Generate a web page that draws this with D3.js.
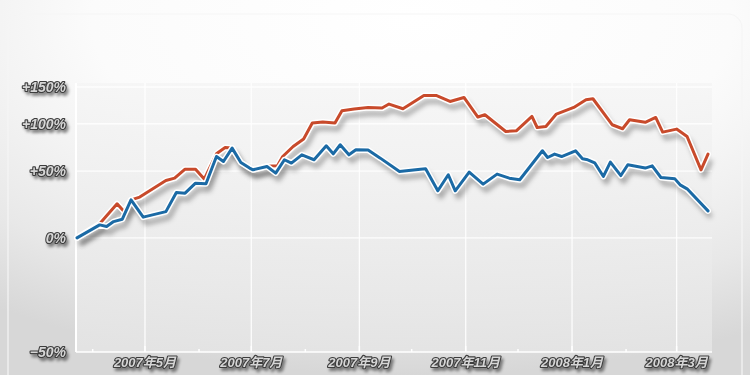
<!DOCTYPE html>
<html><head><meta charset="utf-8">
<script src="https://cdn.jsdelivr.net/npm/d3@7"></script>
<style>html,body{margin:0;padding:0;background:#fff;}svg{display:block;}</style>
</head><body>
<svg id="chart" width="750" height="375"></svg>
<script>
// ---- data (cumulative return, %) ----
const redDates = ["2007-03-23","2007-04-05","2007-04-15","2007-04-19","2007-04-23","2007-04-28","2007-05-13","2007-05-18","2007-05-24","2007-05-30","2007-06-04","2007-06-11","2007-06-16","2007-06-20","2007-06-25","2007-06-30","2007-07-02","2007-07-10","2007-07-16","2007-07-19","2007-07-25","2007-07-31","2007-08-05","2007-08-11","2007-08-18","2007-08-22","2007-08-29","2007-09-06","2007-09-14","2007-09-18","2007-09-26","2007-10-08","2007-10-15","2007-10-23","2007-10-31","2007-11-08","2007-11-12","2007-11-24","2007-11-30","2007-12-09","2007-12-12","2007-12-17","2007-12-23","2008-01-02","2008-01-09","2008-01-13","2008-01-24","2008-01-30","2008-02-03","2008-02-12","2008-02-18","2008-02-22","2008-03-01","2008-03-07","2008-03-15","2008-03-19"];
const redValues = [0,8.9,23.0,17.3,26.0,28.1,41.7,43.7,51.8,51.8,42.9,66.6,73.1,72.5,58.1,52.8,51.2,54.5,54.9,63.9,74.2,82.2,100.8,102.1,100.8,116.4,118.7,120.8,120.0,125.4,119.1,137.5,137.5,129.0,134.6,108.3,111.2,90.8,91.6,109.1,95.5,96.7,112.1,120.8,131.4,132.8,98.8,94.0,104.9,101.8,107.8,90.1,93.6,85.1,51.2,66.3];

const blueDates = ["2007-03-23","2007-04-05","2007-04-09","2007-04-13","2007-04-18","2007-04-23","2007-04-30","2007-05-13","2007-05-19","2007-05-24","2007-05-30","2007-06-05","2007-06-11","2007-06-15","2007-06-20","2007-06-25","2007-06-30","2007-07-02","2007-07-10","2007-07-15","2007-07-20","2007-07-24","2007-07-30","2007-08-06","2007-08-13","2007-08-17","2007-08-21","2007-08-26","2007-08-30","2007-09-06","2007-09-13","2007-09-24","2007-10-06","2007-10-09","2007-10-16","2007-10-22","2007-10-26","2007-11-03","2007-11-11","2007-11-19","2007-11-26","2007-12-02","2007-12-15","2007-12-18","2007-12-22","2007-12-26","2008-01-03","2008-01-07","2008-01-10","2008-01-14","2008-01-19","2008-01-23","2008-01-29","2008-02-02","2008-02-12","2008-02-16","2008-02-21","2008-02-29","2008-03-03","2008-03-07","2008-03-19"];
const blueValues = [0,8.2,7.1,10.4,12.0,26.0,13.4,17.3,31.7,31.2,39.4,38.9,63.9,59.0,72.5,58.1,52.8,51.2,54.3,48.2,60.7,57.5,65.6,60.7,74.9,66.6,76.0,65.6,70.7,70.4,62.3,49.6,51.8,52.1,33.1,46.7,33.1,49.1,38.6,47.3,43.7,42.3,69.7,62.9,66.3,63.9,69.7,61.6,60.7,57.8,45.2,58.4,46.0,55.9,52.8,54.9,44.3,43.1,38.0,34.7,17.8];

const yTickValues = [-50, 0, 50, 100, 150];
const yTickLabels = ["\u221250%", "0%", "+50%", "+100%", "+150%"];
const xLabelDates = ["2007-05-01","2007-07-01","2007-09-01","2007-11-01","2008-01-01","2008-03-01"];
const xLabelTexts = ["2007年5月","2007年7月","2007年9月","2007年11月","2008年1月","2008年3月"];

// ---- setup ----
const parse = d3.timeParse("%Y-%m-%d");
const W = 750, H = 375;
const plot = {left: 76, right: 712, top: 83, bottom: 352};
const svg = d3.select("#chart");
const defs = svg.append("defs");

const bg = defs.append("radialGradient").attr("id","bg")
  .attr("cx","0.55").attr("cy","0.05").attr("r","0.95").attr("fx","0.55").attr("fy","0.05");
bg.append("stop").attr("offset","0").attr("stop-color","#ffffff");
bg.append("stop").attr("offset","0.45").attr("stop-color","#fbfbfb");
bg.append("stop").attr("offset","0.8").attr("stop-color","#e8e8e8");
bg.append("stop").attr("offset","1").attr("stop-color","#d7d7d7");

const pg = defs.append("linearGradient").attr("id","pg").attr("x1",0).attr("y1",0).attr("x2",0).attr("y2",1);
pg.append("stop").attr("offset","0").attr("stop-color","#f5f5f5");
pg.append("stop").attr("offset","1").attr("stop-color","#e5e5e5");

const lineShadow = defs.append("filter").attr("id","lshadow").attr("x","-10%").attr("y","-20%").attr("width","120%").attr("height","150%");
lineShadow.append("feGaussianBlur").attr("stdDeviation", 2.4);

const textShadow = defs.append("filter").attr("id","tshadow").attr("x","-20%").attr("y","-30%").attr("width","150%").attr("height","180%");
textShadow.append("feDropShadow").attr("dx",2).attr("dy",3).attr("stdDeviation",1.6)
  .attr("flood-color","#000").attr("flood-opacity",0.45);

svg.append("rect").attr("width",W).attr("height",H).attr("fill","url(#bg)");
svg.append("rect").attr("x",8).attr("y",14).attr("width",734).attr("height",400).attr("rx",14)
  .attr("fill","none").attr("stroke","#f5f5f5").attr("stroke-width",1.2);

// ---- scales ----
const allDates = redDates.concat(blueDates).map(parse);
const x = d3.scaleTime().domain(d3.extent(allDates)).range([77, 708]);
const y = d3.scaleLog().domain([0.5, 2.5]).range([plot.bottom, 87]);
const yv = v => y(1 + v / 100);

// plot background
svg.append("rect").attr("x",plot.left).attr("y",plot.top)
  .attr("width",plot.right-plot.left).attr("height",plot.bottom-plot.top)
  .attr("fill","url(#pg)").attr("opacity",0.85);

// gridlines
const grid = svg.append("g").attr("stroke","#ffffff").attr("stroke-width",1.3);
yTickValues.forEach(v => {
  grid.append("line").attr("x1",plot.left).attr("x2",plot.right)
    .attr("y1",yv(v)).attr("y2",yv(v)).attr("opacity", v === -50 ? 1 : 0.9);
});
xLabelDates.forEach(d => {
  const xx = x(parse(d));
  grid.append("line").attr("x1",xx).attr("x2",xx).attr("y1",plot.top).attr("y2",plot.bottom).attr("opacity",0.9);
});
grid.append("line").attr("x1",plot.left).attr("x2",plot.left).attr("y1",plot.top).attr("y2",plot.bottom).attr("stroke-width",2);

// month ticks on bottom axis
const months = d3.timeMonth.range(d3.timeMonth.ceil(x.domain()[0]), x.domain()[1]);
const majorSet = new Set(xLabelDates);
months.forEach(m => {
  const xx = x(m);
  const major = majorSet.has(d3.timeFormat("%Y-%m-%d")(m));
  svg.append("line").attr("x1",xx).attr("x2",xx)
    .attr("y1",plot.bottom).attr("y2",plot.bottom - (major ? 6 : 3))
    .attr("stroke","#ffffff").attr("stroke-width",1.5);
});

// ---- lines ----
const line = d3.line().x(d => x(d[0])).y(d => yv(d[1]));
const redData = redDates.map((d,i) => [parse(d), redValues[i]]);
const blueData = blueDates.map((d,i) => [parse(d), blueValues[i]]);

function drawSeries(data, color) {
  const g = svg.append("g");
  g.append("path").datum(data).attr("d", line)
    .attr("fill","none").attr("stroke","#000").attr("stroke-opacity",0.32)
    .attr("stroke-width",4.5).attr("stroke-linejoin","round")
    .attr("transform","translate(3,6)").attr("filter","url(#lshadow)");
  g.append("path").datum(data).attr("d", line)
    .attr("fill","none").attr("stroke","#ffffff").attr("stroke-width",6)
    .attr("stroke-linejoin","round").attr("stroke-linecap","round");
  g.append("path").datum(data).attr("d", line)
    .attr("fill","none").attr("stroke",color).attr("stroke-width",3)
    .attr("stroke-linejoin","round").attr("stroke-linecap","round");
}
drawSeries(redData, "#c84a2b");
drawSeries(blueData, "#1b6aa5");

// ---- labels ----
const labelStyle = sel => sel
  .attr("font-family","'Liberation Sans','Noto Sans CJK SC', Arial, sans-serif")
  .attr("font-weight","bold").attr("font-style","italic")
  .attr("fill","#d6d6d6").attr("stroke","#3d3d3d").attr("stroke-width",2.2)
  .attr("paint-order","stroke").attr("stroke-linejoin","round")
  .attr("filter","url(#tshadow)");

svg.append("g").selectAll("text").data(yTickValues).join("text")
  .attr("x",66).attr("y",v => yv(v)).attr("dy","0.36em")
  .attr("text-anchor","end").attr("font-size",14)
  .text((v,i) => yTickLabels[i]).call(labelStyle);

svg.append("g").selectAll("text").data(xLabelDates).join("text")
  .attr("x",d => x(parse(d))).attr("y",367)
  .attr("text-anchor","middle").attr("font-size",13)
  .text((d,i) => xLabelTexts[i]).call(labelStyle);
</script>
</body></html>
